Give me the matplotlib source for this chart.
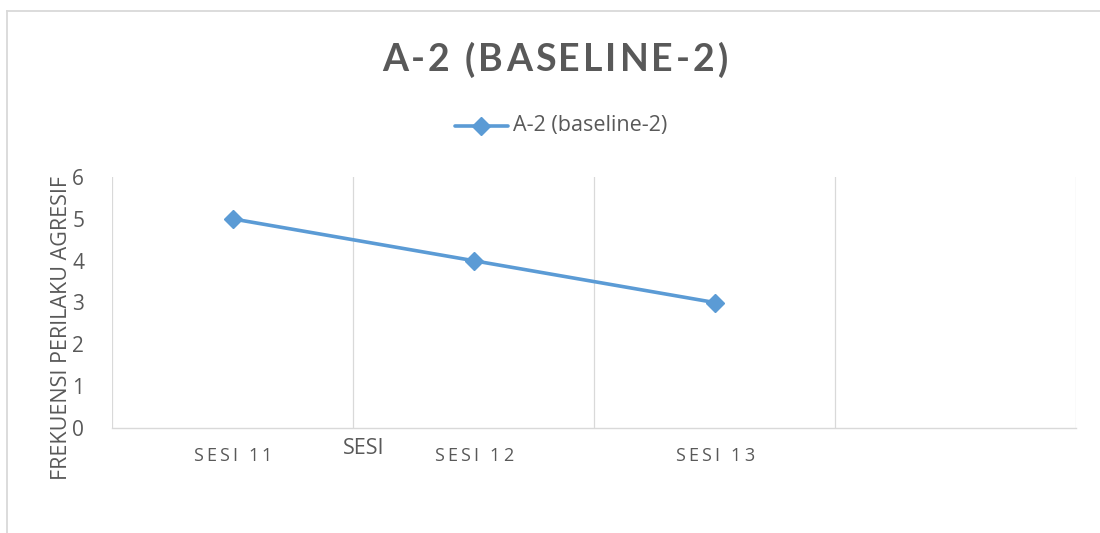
import matplotlib
matplotlib.use("Agg")
import matplotlib.pyplot as plt
from matplotlib.lines import Line2D

# Data
sessions = ["SESI 11", "SESI 12", "SESI 13", ""]
frequency = [5, 4, 3]
series_name = "A-2 (baseline-2)"
chart_title = "A-2 (BASELINE-2)"
y_ticks = [0, 1, 2, 3, 4, 5, 6]

TEXT = "#595959"
GRID = "#D9D9D9"
BLUE = "#5B9BD5"
FONT = "Open Sans"
TITLE_FONT = "Lato"

W, H = 1100, 533
fig = plt.figure(figsize=(W / 100, H / 100), dpi=100)
fig.patch.set_facecolor("white")


def px(x, y):
    """Pixel coordinates (top-left origin) to figure fraction."""
    return x / W, 1 - y / H


def spaced_text(s, cx, cy, size, family, weight="normal", tracking=0.0):
    """Draw letter-spaced text centred at pixel (cx, cy)."""
    renderer = fig.canvas.get_renderer()
    kw = dict(fontsize=size, fontfamily=family, fontweight=weight)
    widths = []
    for ch in s:
        if ch == " ":
            t = fig.text(0, 0, "a a", **kw)
            w_full = t.get_window_extent(renderer).width
            t.remove()
            t = fig.text(0, 0, "aa", **kw)
            w_no = t.get_window_extent(renderer).width
            t.remove()
            widths.append(w_full - w_no)
        else:
            t = fig.text(0, 0, ch, **kw)
            widths.append(t.get_window_extent(renderer).width)
            t.remove()
    total = sum(widths) + tracking * (len(s) - 1)
    x = cx - total / 2
    for ch, w in zip(s, widths):
        if ch != " ":
            fig.text(*px(x, cy), ch, color=TEXT, ha="left", va="center", **kw)
        x += w + tracking


# Chart border
fig.add_artist(Line2D([7 / W, 7 / W], [0, 1 - 11 / H], transform=fig.transFigure,
                      color=GRID, lw=1.3))
fig.add_artist(Line2D([7 / W, 1], [1 - 11 / H, 1 - 11 / H], transform=fig.transFigure,
                      color=GRID, lw=1.3))

left, right, top, bottom = 112, 1076, 177, 428
ax = fig.add_axes([left / W, 1 - bottom / H, (right - left) / W, (bottom - top) / H])

xs = list(range(len(frequency)))
ax.plot(xs, frequency, color=BLUE, lw=2.6, marker="D", markersize=9.5,
        markerfacecolor=BLUE, markeredgecolor=BLUE, solid_capstyle="round")

ax.set_xlim(-0.5, len(sessions) - 0.5)
ax.set_ylim(0, 6)
ax.set_yticks(y_ticks)
ax.set_yticklabels([str(v) for v in y_ticks], fontsize=15, fontfamily=FONT, color=TEXT)
ax.tick_params(axis="y", length=0, pad=20)
ax.set_xticks([])

# Vertical category gridlines
for b in [i - 0.5 for i in range(len(sessions) + 1)]:
    ax.axvline(b, color=GRID, lw=0.9, zorder=0)

for s in ["top", "right", "left"]:
    ax.spines[s].set_visible(False)
ax.spines["bottom"].set_color(GRID)
ax.spines["bottom"].set_linewidth(1.0)

fig.canvas.draw()

# Category labels
for i, lab in enumerate(sessions):
    if lab:
        xpix = ax.transData.transform((i, 0))[0]
        spaced_text(lab, xpix, 456, 13, FONT, tracking=3.2)

# Axis titles
fig.text(*px(364, 449), "SESI", fontsize=15.5, fontfamily=FONT, color=TEXT,
         ha="center", va="center")
fig.text(*px(62, 328), "FREKUENSI PERILAKU AGRESIF", fontsize=15.5, fontfamily=FONT,
         color=TEXT, ha="center", va="center", rotation=90)

# Title
spaced_text(chart_title, 555, 60, 27, TITLE_FONT, weight="bold", tracking=3.0)

# Legend
fig.add_artist(Line2D([455 / W, 508 / W], [1 - 126 / H, 1 - 126 / H], transform=fig.transFigure,
                      color=BLUE, lw=2.6, solid_capstyle="round"))
fig.add_artist(Line2D([481 / W], [1 - 126 / H], transform=fig.transFigure,
                      color=BLUE, marker="D", markersize=9.5, lw=0))
fig.text(*px(513, 126), series_name, fontsize=15.5, fontfamily=FONT, color=TEXT,
         ha="left", va="center")

fig.savefig("out.png", dpi=100, facecolor="white")
